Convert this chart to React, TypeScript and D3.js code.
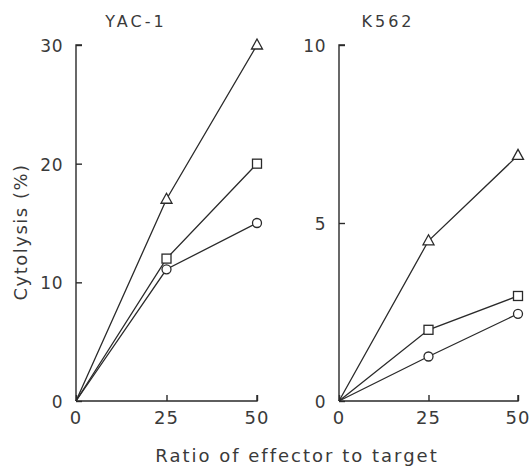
import React, { useEffect, useRef } from "react";
import * as d3 from "d3";

const ratios = [0, 25, 50];
const yacTriangle = [0, 17, 30];
const yacSquare = [0, 12, 20];
const yacCircle = [0, 11.1, 15];
const k562Triangle = [0, 4.5, 6.9];
const k562Square = [0, 2, 2.95];
const k562Circle = [0, 1.25, 2.45];
const xTicks = [0, 25, 50];
const yacTicks = [0, 10, 20, 30];
const k562Ticks = [0, 5, 10];

function App() {
  const svgRef = useRef(null);
  const [width, height] = [529, 466];
  const ink = "#2a2a2a";
  const textInk = "#3a3a3a";
  const font = "DejaVu Sans, sans-serif";

  useEffect(() => {
    const svg = d3.select(svgRef.current);
    svg.selectAll("*").remove();

    const panels = [
      {
        title: "YAC-1",
        titleX: 136,
        left: 76,
        right: 257,
        max: 30,
        ticks: yacTicks,
        series: [
          { values: yacTriangle, shape: "triangle" },
          { values: yacSquare, shape: "square" },
          { values: yacCircle, shape: "circle" },
        ],
      },
      {
        title: "K562",
        titleX: 388,
        left: 339,
        right: 518,
        max: 10,
        ticks: k562Ticks,
        series: [
          { values: k562Triangle, shape: "triangle" },
          { values: k562Square, shape: "square" },
          { values: k562Circle, shape: "circle" },
        ],
      },
    ];

    const top = 45;
    const bottom = 401;

    panels.forEach((p) => {
      const x = d3.scaleLinear().domain([0, 50]).range([p.left, p.right]);
      const y = d3.scaleLinear().domain([0, p.max]).range([bottom, top]);
      const g = svg.append("g");

      // axes, ticks pointing inward
      const yAxis = g
        .append("g")
        .attr("transform", `translate(${p.left},0)`)
        .call(d3.axisRight(y).tickValues(p.ticks).tickSize(6).tickFormat(() => ""));
      yAxis.select(".domain").attr("d", `M${6},${top}H0V${bottom}`);
      const xAxis = g
        .append("g")
        .attr("transform", `translate(0,${bottom})`)
        .call(d3.axisTop(x).tickValues(xTicks).tickSize(6).tickFormat(() => ""));
      xAxis.select(".domain").attr("d", `M${p.left},0H${p.right}V-6`);
      g.selectAll(".domain").attr("stroke", ink).attr("stroke-width", 1.4).attr("fill", "none");
      g.selectAll(".tick line").attr("stroke", ink).attr("stroke-width", 1.4);

      // tick labels
      g.selectAll(".ylab")
        .data(p.ticks)
        .join("text")
        .attr("x", p.left - 13)
        .attr("y", (d) => y(d) + 7)
        .attr("text-anchor", "end")
        .attr("font-family", font)
        .attr("font-size", 17)
        .attr("letter-spacing", 0.5)
        .attr("fill", textInk)
        .text((d) => d);
      g.selectAll(".xlab")
        .data(xTicks)
        .join("text")
        .attr("x", (d) => x(d))
        .attr("y", bottom + 23)
        .attr("text-anchor", "middle")
        .attr("font-family", font)
        .attr("font-size", 18)
        .attr("letter-spacing", 1)
        .attr("fill", textInk)
        .text((d) => d);

      g.append("text")
        .attr("x", p.titleX)
        .attr("y", 27)
        .attr("text-anchor", "middle")
        .attr("font-family", font)
        .attr("font-size", 16)
        .attr("letter-spacing", 3)
        .attr("fill", textInk)
        .text(p.title);

      const line = d3
        .line<number>()
        .x((d, i) => x(ratios[i]))
        .y((d) => y(d));

      p.series.forEach((s) => {
        g.append("path")
          .attr("d", line(s.values))
          .attr("fill", "none")
          .attr("stroke", ink)
          .attr("stroke-width", 1.3);
        const pts = s.values.map((v, i) => [x(ratios[i]), y(v)]).slice(1);
        pts.forEach(([px, py]) => {
          if (s.shape === "circle") {
            g.append("circle")
              .attr("cx", px)
              .attr("cy", py)
              .attr("r", 4.5)
              .attr("fill", "white")
              .attr("stroke", ink)
              .attr("stroke-width", 1.3);
          } else if (s.shape === "square") {
            g.append("rect")
              .attr("x", px - 4.5)
              .attr("y", py - 4.5)
              .attr("width", 9)
              .attr("height", 9)
              .attr("fill", "white")
              .attr("stroke", ink)
              .attr("stroke-width", 1.3);
          } else {
            g.append("path")
              .attr("d", `M${px},${py - 6}L${px + 5.5},${py + 4}L${px - 5.5},${py + 4}Z`)
              .attr("fill", "white")
              .attr("stroke", ink)
              .attr("stroke-width", 1.3);
          }
        });
      });
    });

    svg
      .append("text")
      .attr("transform", `translate(27,232) rotate(-90)`)
      .attr("text-anchor", "middle")
      .attr("font-family", font)
      .attr("font-size", 18)
      .attr("letter-spacing", 1.5)
      .attr("fill", textInk)
      .text("Cytolysis (%)");

    svg
      .append("text")
      .attr("x", 297)
      .attr("y", 462)
      .attr("text-anchor", "middle")
      .attr("font-family", font)
      .attr("font-size", 18)
      .attr("letter-spacing", 2)
      .attr("fill", textInk)
      .text("Ratio of effector to target");
  }, []);

  return (
    <svg
      ref={svgRef}
      width={width}
      height={height}
      style={{ position: "absolute", left: 0, top: 0, background: "white" }}
    ></svg>
  );
}

export default App;
